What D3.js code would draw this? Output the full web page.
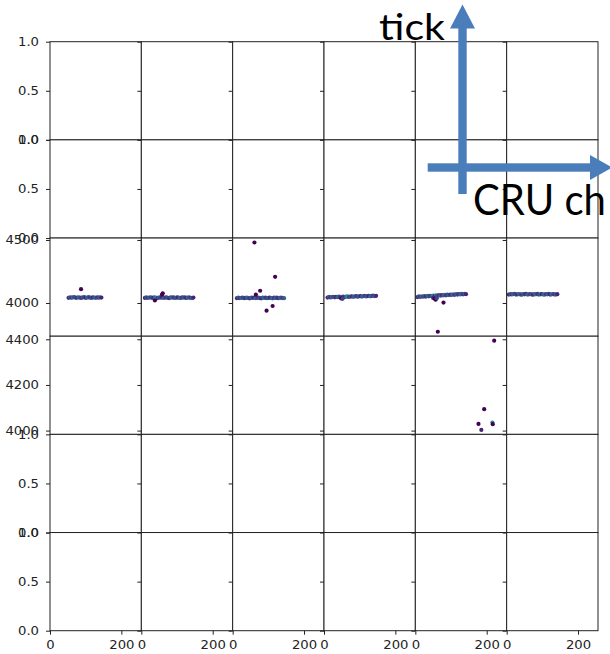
<!DOCTYPE html>
<html>
<head>
<meta charset="utf-8">
<script src="https://cdn.jsdelivr.net/npm/d3@7/dist/d3.min.js"></script>
<style>
  body { margin: 0; background: #fff; }
  svg { display: block; }
</style>
</head>
<body>
<svg id="chart" width="610" height="654"></svg>
<script>
// ---- grid and axis settings ----
const nRows = 6, nCols = 6;
const channelDomain = [0, 256];
const channelTicks = [0, 200];
const emptyRowTicks = [0, 0.5, 1.0];
const rowTicks = { 2: [4000, 4500], 3: [4000, 4200, 4400] };

// ---- hits per panel: CRU channel, tick, colour value ----
const ch_r2c0 = [52,56,60,64,68,72,76,80,84,88,92,96,100,104,108,112,116,120,124,128,132,136,140,144, 87];
const tick_r2c0 = [4041,4045,4042,4044,4046,4041,4043,4045,4042,4040,4044,4046,4041,4043,4046,4042,4040,4045,4043,4041,4045,4042,4044,4043, 4110];
const val_r2c0 = [0.1,0.3,0.15,0.35,0.2,0.25,0.1,0.35,0.25,0.15,0.3,0.2,0.1,0.35,0.25,0.15,0.3,0.1,0.25,0.35,0.15,0.2,0.3,0.1, 0];

const ch_r2c1 = [10,14,18,22,26,30,34,38,42,46,50,54,58,62,66,70,74,78,82,86,90,94,98,102,106,110,114,118,122,126,130,134,138,142,146, 60,58,38];
const tick_r2c1 = [4040,4044,4041,4043,4045,4040,4042,4044,4041,4039,4044,4042,4045,4040,4042,4044,4041,4039,4044,4042,4045,4040,4042,4044,4041,4039,4044,4042,4045,4040,4042,4044,4041,4039,4043, 4077,4066,4020];
const val_r2c1 = [0.1,0.3,0.15,0.35,0.2,0.25,0.1,0.35,0.45,0.15,0.3,0.2,0.1,0.35,0.25,0.15,0.3,0.1,0.25,0.35,0.15,0.2,0.3,0.1,0.25,0.35,0.15,0.3,0.2,0.1,0.35,0.25,0.15,0.3,0.1, 0,0,0];

const ch_r2c2 = [12,16,20,24,28,32,36,40,44,48,52,56,60,64,68,72,76,80,84,88,92,96,100,104,108,112,116,120,124,128,132,136,140,144, 61,119,77,65,95,112];
const tick_r2c2 = [4038,4042,4039,4041,4043,4038,4040,4042,4039,4037,4042,4040,4043,4038,4040,4042,4039,4037,4042,4040,4043,4038,4040,4042,4039,4037,4042,4040,4043,4038,4040,4042,4039,4038, 4480,4208,4097,4066,3939,3976];
const val_r2c2 = [0.1,0.3,0.15,0.35,0.2,0.25,0.1,0.35,0.25,0.15,0.3,0.2,0.1,0.35,0.25,0.15,0.3,0.1,0.25,0.35,0.15,0.2,0.3,0.1,0.25,0.35,0.15,0.3,0.2,0.1,0.35,0.25,0.15,0.3, 0,0,0,0,0,0];

const ch_r2c3 = [10,14,18,22,26,30,34,38,42,46,50,54,58,62,66,70,74,78,82,86,90,94,98,102,106,110,114,118,122,126,130,134,138,142,146, 48,52];
const tick_r2c3 = [4043,4048,4044,4047,4049,4045,4048,4046,4050,4046,4049,4051,4047,4050,4052,4048,4051,4053,4049,4052,4054,4050,4053,4055,4051,4054,4056,4052,4055,4057,4053,4056,4058,4054,4057, 4036,4033];
const val_r2c3 = [0.1,0.3,0.15,0.35,0.2,0.25,0.1,0.35,0.25,0.15,0.3,0.2,0.1,0.35,0.5,0.15,0.3,0.1,0.25,0.35,0.15,0.2,0.3,0.1,0.25,0.35,0.15,0.3,0.2,0.1,0.35,0.25,0.15,0.3,0.1, 0,0.2];

const ch_r2c4 = [6,10,14,18,22,26,30,34,38,42,46,50,54,58,62,66,70,74,78,82,86,90,94,98,102,106,110,114,118,122,126,130,134,138,142, 50,54,57,60,79,63];
const tick_r2c4 = [4047,4052,4049,4053,4050,4054,4051,4056,4053,4057,4054,4059,4055,4060,4057,4062,4058,4063,4060,4064,4061,4066,4063,4067,4064,4069,4065,4070,4067,4071,4068,4072,4069,4073,4070, 4040,4034,4026,4038,4003,3772];
const val_r2c4 = [0.1,0.3,0.15,0.35,0.2,0.25,0.1,0.35,0.25,0.15,0.3,0.5,0.1,0.35,0.25,0.15,0.3,0.1,0.25,0.35,0.15,0.2,0.3,0.1,0.25,0.35,0.15,0.3,0.2,0.1,0.35,0.25,0.15,0.3,0.1, 0.1,0,0,0.2,0,0];

const ch_r2c5 = [6,10,14,18,22,26,30,34,38,42,46,50,54,58,62,66,70,74,78,82,86,90,94,98,102,106,110,114,118,122,126,130,134,138,142];
const tick_r2c5 = [4067,4071,4068,4070,4072,4067,4069,4071,4068,4066,4071,4069,4072,4067,4069,4071,4068,4066,4071,4069,4072,4067,4069,4071,4068,4066,4071,4069,4072,4067,4069,4071,4068,4067,4070];
const val_r2c5 = [0.1,0.3,0.15,0.35,0.2,0.25,0.1,0.35,0.25,0.15,0.3,0.2,0.1,0.35,0.25,0.15,0.3,0.1,0.25,0.35,0.15,0.2,0.3,0.1,0.25,0.35,0.15,0.3,0.2,0.1,0.35,0.25,0.15,0.3,0.1];

const ch_r3c4 = [221,193,177,216,217,185];
const tick_r3c4 = [4394,4094,4029,4035,4028,4003];
const val_r3c4 = [0,0,0,0.45,0,0.1];

// ---- assemble hits into panels ----
function hits(row, col, ch, tick, val) {
  return ch.map((c, i) => ({ row, col, ch: c, tick: tick[i], val: val[i] }));
}
const allHits = [].concat(
  hits(2, 0, ch_r2c0, tick_r2c0, val_r2c0),
  hits(2, 1, ch_r2c1, tick_r2c1, val_r2c1),
  hits(2, 2, ch_r2c2, tick_r2c2, val_r2c2),
  hits(2, 3, ch_r2c3, tick_r2c3, val_r2c3),
  hits(2, 4, ch_r2c4, tick_r2c4, val_r2c4),
  hits(2, 5, ch_r2c5, tick_r2c5, val_r2c5),
  hits(3, 4, ch_r3c4, tick_r3c4, val_r3c4)
);

// ---- layout ----
const svg = d3.select("#chart");
const gridLeft = 50, gridRight = 598, gridTop = 41.7, gridBottom = 630.7;
const cellW = (gridRight - gridLeft) / nCols;
const cellH = (gridBottom - gridTop) / nRows;
const labelFont = "DejaVu Sans, sans-serif";
const labelSize = 12;
const labelStretch = 1.1;
const ink = "#222";

const x = d3.scaleLinear().domain(channelDomain).range([0, cellW]);

// each row shares its y range; empty rows fall back to 0..1, filled rows get a 5% margin
const yScales = d3.range(nRows).map(r => {
  const rowHits = allHits.filter(h => h.row === r);
  let dom = [0, 1];
  if (rowHits.length) {
    const [lo, hi] = d3.extent(rowHits, h => h.tick);
    const pad = (hi - lo) * 0.05;
    dom = [lo - pad, hi + pad];
  }
  return d3.scaleLinear().domain(dom).range([cellH, 0]);
});

const defs = svg.append("defs");

for (let r = 0; r < nRows; r++) {
  for (let c = 0; c < nCols; c++) {
    const x0 = gridLeft + c * cellW, y0 = gridTop + r * cellH;
    const y = yScales[r];
    const g = svg.append("g").attr("transform", `translate(${x0},${y0})`);

    g.append("rect").attr("width", cellW).attr("height", cellH).attr("fill", "#fff");

    const clipId = `clip-${r}-${c}`;
    defs.append("clipPath").attr("id", clipId)
      .append("rect").attr("width", cellW).attr("height", cellH);

    g.append("g").attr("clip-path", `url(#${clipId})`)
      .selectAll("circle")
      .data(allHits.filter(h => h.row === r && h.col === c))
      .join("circle")
      .attr("cx", d => x(d.ch))
      .attr("cy", d => y(d.tick))
      .attr("r", 2.1)
      .attr("fill", d => d3.interpolateViridis(d.val));

    // spines
    g.append("rect").attr("width", cellW).attr("height", cellH)
      .attr("fill", "none").attr("stroke", ink).attr("stroke-width", 1);

    // y axis
    const yAxis = d3.axisLeft(y)
      .tickValues(r in rowTicks ? rowTicks[r] : emptyRowTicks)
      .tickSize(4).tickPadding(7)
      .tickFormat(c === 0 ? (r in rowTicks ? d3.format("d") : d3.format(".1f")) : () => "");
    const ya = g.append("g").call(yAxis);
    ya.select(".domain").remove();
    ya.selectAll(".tick line").attr("stroke", ink);
    ya.selectAll(".tick text")
      .attr("font-family", labelFont).attr("font-size", labelSize).attr("fill", ink)
      .attr("x", -11 / labelStretch)
      .attr("transform", `scale(${labelStretch},1)`);

    // x axis
    const xAxis = d3.axisBottom(x)
      .tickValues(channelTicks)
      .tickSize(4).tickPadding(6)
      .tickFormat(r === nRows - 1 ? d3.format("d") : () => "");
    const xa = g.append("g").attr("transform", `translate(0,${cellH})`).call(xAxis);
    xa.select(".domain").remove();
    xa.selectAll(".tick line").attr("stroke", ink);
    xa.selectAll(".tick text")
      .attr("font-family", labelFont).attr("font-size", labelSize).attr("fill", ink)
      .attr("transform", `scale(${labelStretch},1)`);
  }
}

// ---- direction key: tick (up) and CRU channel (right) ----
const keyBlue = "#4a7ebb";
const key = svg.append("g");
key.append("rect").attr("x", 427.7).attr("y", 163.3).attr("width", 163).attr("height", 8.4).attr("fill", keyBlue);
key.append("path").attr("d", "M590,155 L612,167.5 L590,180 Z").attr("fill", keyBlue);
key.append("rect").attr("x", 458.3).attr("y", 27).attr("width", 8.4).attr("height", 167).attr("fill", keyBlue);
key.append("path").attr("d", "M450,28.5 L462.5,4.5 L475,28.5 Z").attr("fill", keyBlue);

key.append("text").attr("x", 379).attr("y", 40)
  .attr("font-family", "Lato, sans-serif").attr("font-size", 37)
  .attr("textLength", 66).attr("lengthAdjust", "spacingAndGlyphs")
  .attr("fill", "#000").text("tick");
key.append("text").attr("x", 473).attr("y", 215)
  .attr("font-family", "Lato, sans-serif").attr("font-size", 42)
  .attr("textLength", 133).attr("lengthAdjust", "spacingAndGlyphs")
  .attr("fill", "#000").text("CRU ch");
</script>
</body>
</html>
